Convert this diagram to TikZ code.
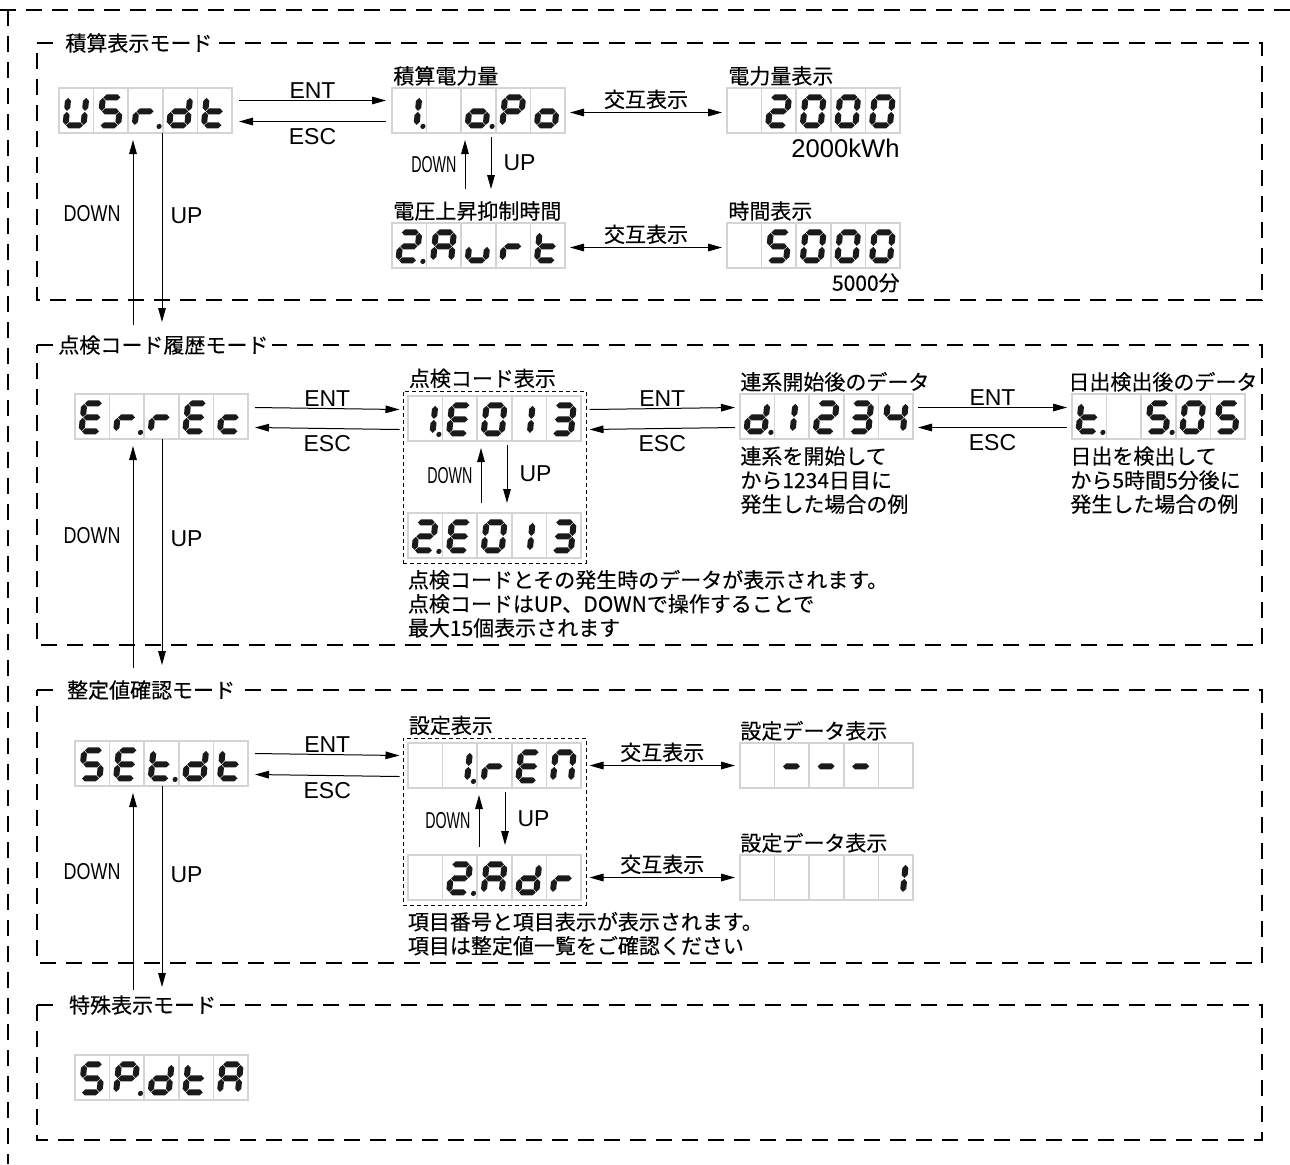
\documentclass[tikz,border=0pt]{standalone}
\usepackage{fontspec}
\setmainfont{Liberation Sans}
\newfontfamily\jp[FakeBold=0.3]{Noto Sans CJK JP}
\usetikzlibrary{arrows.meta,positioning,calc,fit}
\definecolor{cellgray}{HTML}{D4D4D4}
\definecolor{seg}{HTML}{1A1A1A}
\newcommand{\cellw}{34.6}
\newcommand{\cellh}{45}
\newcommand{\shw}{3.0}
\newcommand{\sgap}{0.5}
\newcommand{\hseg}[3]{\fill[seg] ({#1+\sgap},#3) -- ({#1+\sgap+\shw},{#3-\shw}) -- ({#2-\sgap-\shw},{#3-\shw}) -- ({#2-\sgap},#3) -- ({#2-\sgap-\shw},{#3+\shw}) -- ({#1+\sgap+\shw},{#3+\shw}) -- cycle;}
\newcommand{\vseg}[3]{\fill[seg] (#1,{#2+\sgap}) -- ({#1+\shw},{#2+\sgap+\shw}) -- ({#1+\shw},{#3-\sgap-\shw}) -- (#1,{#3-\sgap}) -- ({#1-\shw},{#3-\sgap-\shw}) -- ({#1-\shw},{#2+\sgap+\shw}) -- cycle;}
\def\sga{\hseg{6.5}{24.5}{-28}}
\def\sgb{\vseg{24.5}{-28}{-14}}
\def\sgc{\vseg{24.5}{-14}{0}}
\def\sgd{\hseg{6.5}{24.5}{0}}
\def\sge{\vseg{6.5}{-14}{0}}
\def\sgf{\vseg{6.5}{-28}{-14}}
\def\sgg{\hseg{6.5}{24.5}{-14}}
\def\sgi{\vseg{18}{-28}{-14}\vseg{18}{-14}{0}}
\def\sgp{\fill[seg] (31,1) circle[radius=1.3pt];}
\def\sgz{}
% one display = 5 cells, segment letters per cell
\newcommand{\lcd}[2]{%
  \foreach \cl [count=\ci from 0] in {#2}{%
    \draw[lcdcell] ($(#1.north west)+(\ci*\cellw,0)$) rectangle +(\cellw,\cellh);
    \begin{scope}[shift={($(#1.north west)+(\ci*\cellw,37.4)$)},xslant=0.1]
      \foreach \sgm in \cl {\csname sg\sgm\endcsname}
    \end{scope}
  }}
\tikzset{
  modeframe/.style={line width=1.4pt,dash pattern=on 8pt off 5pt},
  groupframe/.style={draw,line width=0.5pt,dash pattern=on 2pt off 1.5pt},
  lcdcell/.style={draw=cellgray,line width=0.8pt},
  lcdbox/.style={anchor=north west,minimum width=86.5pt,minimum height=22.5pt,inner sep=0pt,outer sep=0pt},
  keyarrow/.style={line width=0.5pt,-{Triangle[length=7pt,width=3.8pt]}},
  swaparrow/.style={line width=0.5pt,{Triangle[length=7pt,width=3.8pt]}-{Triangle[length=7pt,width=3.8pt]}},
  keylabel/.style={font=\fontsize{11.5}{13}\selectfont,inner sep=1pt},
  jplabel/.style={font=\jp\fontsize{10.5}{12}\selectfont,inner sep=0pt},
  modetitle/.style={jplabel,fill=white,inner xsep=2pt,inner ysep=1pt}
}

\begin{document}
\begin{tikzpicture}[x=0.5pt,y=-0.5pt]
\useasboundingbox (0,0) rectangle (1290,1164);
% OUTER
\draw[modeframe] (0,10) -- (1290,10);
\draw[modeframe] (8,10) -- (8,1164);
% FRAMES
\draw[modeframe] (37,43) -- (1262,43) -- (1262,300) -- (37,300) -- cycle;
\draw[modeframe] (37,345) -- (1262,345) -- (1262,645) -- (37,645) -- cycle;
\draw[modeframe] (37,690) -- (1262,690) -- (1262,963) -- (37,963) -- cycle;
\draw[modeframe] (37,1005) -- (1262,1005) -- (1262,1140) -- (37,1140) -- cycle;
\node[modetitle,anchor=west] (usrtitle) at (61,43) {積算表示モード};
\node[modetitle,anchor=west] (errtitle) at (54,345) {点検コード履歴モード};
\node[modetitle,anchor=west] (settitle) at (58,690) {\ 整定値確認モード\ };
\node[modetitle,anchor=west] (sptitle) at (60,1005) {\ 特殊表示モード\ };

% USAGE MODE
\node[lcdbox] (usr) at (59,88) {};
\node[lcdbox] (apo) at (392,88) {};
\node[lcdbox] (kwh) at (727,88) {};
\node[lcdbox] (aurt) at (392,223) {};
\node[lcdbox] (mins) at (727,223) {};
\lcd{usr}{{b,c,d,e,f},{a,c,d,f,g},{e,g,p},{b,c,d,e,g},{d,e,f,g}}
\lcd{apo}{{b,c,p},{z},{c,d,e,g,p},{a,b,e,f,g},{c,d,e,g}}
\lcd{kwh}{{z},{a,b,d,e,g},{a,b,c,d,e,f},{a,b,c,d,e,f},{a,b,c,d,e,f}}
\lcd{aurt}{{a,b,d,e,g,p},{a,b,c,e,f,g},{c,d,e},{e,g},{d,e,f,g}}
\lcd{mins}{{z},{a,c,d,f,g},{a,b,c,d,e,f},{a,b,c,d,e,f},{a,b,c,d,e,f}}
\node[jplabel,anchor=south west] (apolbl) at ($(apo.north west)+(1,-2)$) {積算電力量};
\node[jplabel,anchor=south west] (kwhlbl) at ($(kwh.north west)+(1,-2)$) {電力量表示};
\node[jplabel,anchor=south west] (aurtlbl) at ($(aurt.north west)+(1,-2)$) {電圧上昇抑制時間};
\node[jplabel,anchor=south west] (minslbl) at ($(mins.north west)+(1,-2)$) {時間表示};
\node[keylabel,inner sep=0pt,anchor=north east] (kwhval) at ($(kwh.south east)+(0,6)$) {\fontsize{12.8}{14}\selectfont 2000kWh};
\node[jplabel,anchor=north east] (minsval) at ($(mins.south east)+(0,5)$) {5000分};
\draw[keyarrow] ($(usr.east)+(7,-10)$) -- ($(apo.west)+(-6,-10)$) node[keylabel,midway,above] {ENT};
\draw[keyarrow] ($(apo.west)+(-6,11)$) -- ($(usr.east)+(7,11)$) node[keylabel,midway,below=2pt] {ESC};
\draw[swaparrow] ($(apo.east)+(5,2)$) -- ($(kwh.west)+(-5,2)$) node[jplabel,midway,above=1.5pt] {交互表示};
\draw[swaparrow] ($(aurt.east)+(5,2)$) -- ($(mins.west)+(-5,2)$) node[jplabel,midway,above=1.5pt] {交互表示};
\draw[keyarrow] ($(aurt.north west)+(73,-34)$) -- ($(apo.south west)+(73,7)$) node[keylabel,midway,left=3pt] {\scalebox{0.62}[1]{DOWN}};
\draw[keyarrow] ($(apo.south west)+(99,4)$) -- ($(aurt.north west)+(99,-34)$) node[keylabel,midway,right=5pt] {UP};
\coordinate (usrdn) at (133,325);
\coordinate (usrup) at (162,322);
\draw[keyarrow,shorten >=3.5pt] (usrdn) -- (usrdn |- usr.south) node[keylabel,pos=0.58,left=5pt] {\scalebox{0.78}[1]{DOWN}};
\draw[keyarrow] (usrup |- usr.south) -- (usrup) node[keylabel,pos=0.44,right=3pt] {UP};

% CHECK CODE HISTORY
\node[lcdbox] (errec) at (75,394) {};
\node[lcdbox] (codeA) at (408,396) {};
\node[lcdbox] (codeB) at (408,513) {};
\node[lcdbox] (days) at (740,394) {};
\node[lcdbox] (sunrise) at (1072,394) {};
\lcd{errec}{{a,d,e,f,g},{e,g,p},{e,g},{a,d,e,f,g},{d,e,g}}
\lcd{codeA}{{b,c,p},{a,d,e,f,g},{a,b,c,d,e,f},{i},{a,b,c,d,g}}
\lcd{codeB}{{a,b,d,e,g,p},{a,d,e,f,g},{a,b,c,d,e,f},{i},{a,b,c,d,g}}
\lcd{days}{{b,c,d,e,g,p},{i},{a,b,d,e,g},{a,b,c,d,g},{b,c,f,g}}
\lcd{sunrise}{{d,e,f,g,p},{z},{a,c,d,f,g,p},{a,b,c,d,e,f},{a,c,d,f,g}}
\node[groupframe,fit=(codeA)(codeB),inner sep=2.5pt] (codegrp) {};
\node[jplabel,anchor=south west] (codelbl) at ($(codegrp.north west)+(6,-2)$) {点検コード表示};
\node[jplabel,anchor=south west] (dayslbl) at ($(days.north west)+(0,-2)$) {連系開始後のデータ};
\node[jplabel,anchor=south west] (sunlbl) at ($(sunrise.north west)+(-4,-2)$) {日出検出後のデータ};
\node[jplabel,anchor=north west,align=left] (daysnote) at ($(days.south west)+(0,7)$) {連系を開始して\\から1234日目に\\発生した場合の例};
\node[jplabel,anchor=north west,align=left] (sunnote) at ($(sunrise.south west)+(-2,7)$) {日出を検出して\\から5時間5分後に\\発生した場合の例};
\node[jplabel,anchor=north west,align=left] (codenote) at ($(codegrp.south west)+(5,6)$) {点検コードとその発生時のデータが表示されます。\\点検コードはUP、DOWNで操作することで\\最大15個表示されます};
\draw[keyarrow] ($(errec.east)+(7,-9)$) -- ($(codegrp.west |- codeA.west)+(-3,-9)$) node[keylabel,midway,above] {ENT};
\draw[keyarrow] ($(codegrp.west |- codeA.west)+(-3,11)$) -- ($(errec.east)+(7,11)$) node[keylabel,midway,below=2pt] {ESC};
\draw[keyarrow] ($(codegrp.east |- codeA.east)+(3,-9)$) -- ($(days.west)+(-5,-9)$) node[keylabel,midway,above] {ENT};
\draw[keyarrow] ($(days.west)+(-5,11)$) -- ($(codegrp.east |- codeA.east)+(3,11)$) node[keylabel,midway,below=2pt] {ESC};
\draw[keyarrow] ($(days.east)+(5,-9)$) -- ($(sunrise.west)+(-5,-9)$) node[keylabel,midway,above] {ENT};
\draw[keyarrow] ($(sunrise.west)+(-5,11)$) -- ($(days.east)+(5,11)$) node[keylabel,midway,below=2pt] {ESC};
\draw[keyarrow] ($(codeB.north west)+(73,-10)$) -- ($(codeA.south west)+(73,7)$) node[keylabel,midway,left=3pt] {\scalebox{0.62}[1]{DOWN}};
\draw[keyarrow] ($(codeA.south west)+(99,4)$) -- ($(codeB.north west)+(99,-10)$) node[keylabel,midway,right=5pt] {UP};
\coordinate (errdn) at (133,668);
\coordinate (errup) at (162,665);
\draw[keyarrow,shorten >=3.5pt] (errdn) -- (errdn |- errec.south) node[keylabel,pos=0.58,left=5pt] {\scalebox{0.78}[1]{DOWN}};
\draw[keyarrow] (errup |- errec.south) -- (errup) node[keylabel,pos=0.44,right=3pt] {UP};

% SETTING CHECK
\node[lcdbox] (setdt) at (75,741) {};
\node[lcdbox] (ren) at (408,743) {};
\node[lcdbox] (adr) at (408,855) {};
\node[lcdbox] (dashes) at (740,743) {};
\node[lcdbox] (one) at (740,855) {};
\lcd{setdt}{{a,c,d,f,g},{a,d,e,f,g},{d,e,f,g,p},{b,c,d,e,g},{d,e,f,g}}
\lcd{ren}{{z},{b,c,p},{e,g},{a,d,e,f,g},{a,b,c,e,f}}
\lcd{adr}{{z},{a,b,d,e,g,p},{a,b,c,e,f,g},{b,c,d,e,g},{e,g}}
\lcd{dashes}{{z},{g},{g},{g},{z}}
\lcd{one}{{z},{z},{z},{z},{b,c}}
\node[groupframe,fit=(ren)(adr),inner sep=2.5pt] (setgrp) {};
\node[jplabel,anchor=south west] (setlbl) at ($(setgrp.north west)+(6,-2)$) {設定表示};
\node[jplabel,anchor=south west] (dashlbl) at ($(dashes.north west)+(0,-2)$) {設定データ表示};
\node[jplabel,anchor=south west] (onelbl) at ($(one.north west)+(0,-2)$) {設定データ表示};
\node[jplabel,anchor=north west,align=left] (setnote) at ($(setgrp.south west)+(5,6)$) {項目番号と項目表示が表示されます。\\項目は整定値一覧をご確認ください};
\draw[keyarrow] ($(setdt.east)+(7,-10)$) -- ($(setgrp.west |- ren.west)+(-3,-10)$) node[keylabel,midway,above] {ENT};
\draw[keyarrow] ($(setgrp.west |- ren.west)+(-3,11)$) -- ($(setdt.east)+(7,11)$) node[keylabel,midway,below=2pt] {ESC};
\draw[swaparrow] ($(setgrp.east |- ren.east)+(3,0)$) -- ($(dashes.west)+(-5,0)$) node[jplabel,midway,above=1.5pt] {交互表示};
\draw[swaparrow] ($(setgrp.east |- adr.east)+(3,0)$) -- ($(one.west)+(-5,0)$) node[jplabel,midway,above=1.5pt] {交互表示};
\draw[keyarrow] ($(adr.north west)+(71,-8)$) -- ($(ren.south west)+(71,7)$) node[keylabel,midway,left=3pt] {\scalebox{0.62}[1]{DOWN}};
\draw[keyarrow] ($(ren.south west)+(97,4)$) -- ($(adr.north west)+(97,-10)$) node[keylabel,midway,right=5pt] {UP};
\coordinate (setdn) at (133,990);
\coordinate (setup) at (162,987);
\draw[keyarrow,shorten >=3.5pt] (setdn) -- (setdn |- setdt.south) node[keylabel,pos=0.58,left=5pt] {\scalebox{0.78}[1]{DOWN}};
\draw[keyarrow] (setup |- setdt.south) -- (setup) node[keylabel,pos=0.44,right=3pt] {UP};

% SPECIAL
\node[lcdbox] (spdta) at (75,1055) {};
\lcd{spdta}{{a,c,d,f,g},{a,b,e,f,g,p},{b,c,d,e,g},{d,e,f,g},{a,b,c,e,f,g}}
\end{tikzpicture}
\end{document}
